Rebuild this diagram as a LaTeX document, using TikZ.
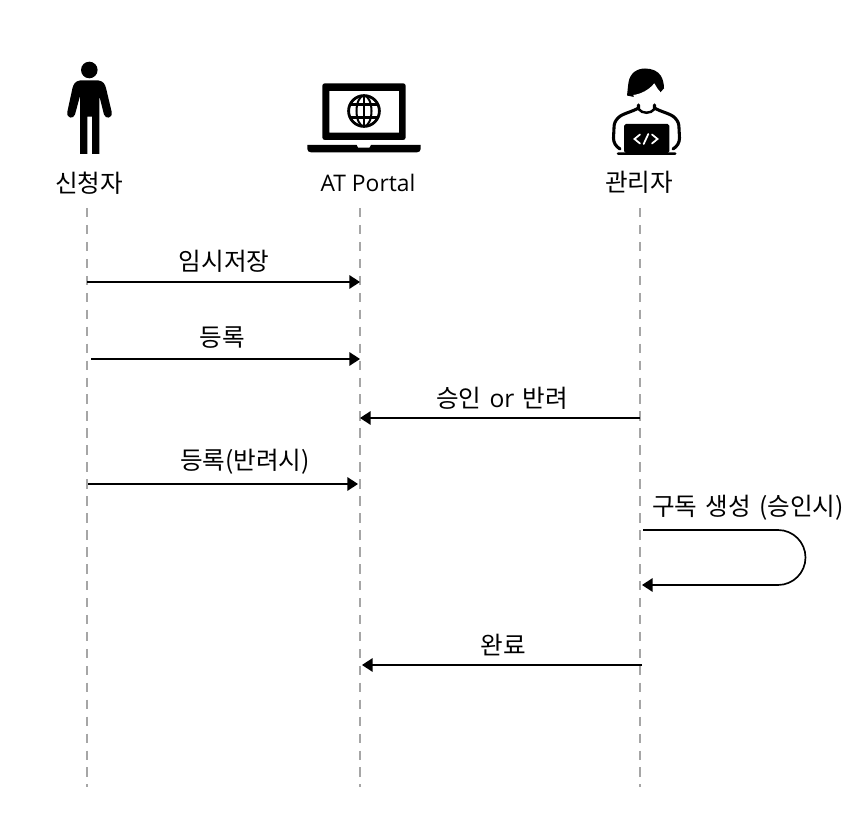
\documentclass[tikz,border=0pt]{standalone}
\usepackage{fontspec}
\setmainfont[WordSpace=1.5]{Noto Sans CJK KR}
\newfontfamily\latinfont{Open Sans}
\usetikzlibrary{arrows.meta}
\tikzset{
  lifeline/.style={line width=0.9pt,draw=black!35,dash pattern=on 5.4pt off 4.25pt},
  msg/.style={line width=0.95pt,-{Triangle[length=6pt,width=7.6pt]}},
  lbl/.style={font=\fontsize{14}{16}\selectfont,inner sep=0pt},
}
\begin{document}
\begin{tikzpicture}[x=0.02cm,y=-0.02cm]
\useasboundingbox (0,0) rectangle (860,817);
% 신청자 아이콘
\fill (89.3,70) circle (8.3);
\fill (80,80.5) -- (98.5,80.5) .. controls (103,81) and (105,84) .. (106,88)
  -- (111.7,112) .. controls (112.8,118.5) and (105.5,119.5) .. (104,114.5) -- (99.3,96)
  -- (99.3,154) -- (92,154) -- (92,116.7) -- (87.3,116.7) -- (87.3,154) -- (80,154) -- (80,96)
  -- (75,114.5) .. controls (73.5,119.5) and (66.3,118.5) .. (67.3,112) -- (72.5,88)
  .. controls (73.5,84) and (75.5,81) .. (80,80.5) -- cycle;
% 노트북 아이콘
\fill[rounded corners=1.5pt,even odd rule] (322.3,83.3) rectangle (405.7,140) [sharp corners] (329.3,91) rectangle (399,132.7);
\fill (307.3,145) -- (356.7,145) -- (358,147.7) -- (369.5,147.7) -- (371,145) -- (420.7,145)
  -- (420.7,149) .. controls (420.7,151) and (419,152.3) .. (417,152.3) -- (311,152.3) .. controls (309,152.3) and (307.3,151) .. (307.3,149) -- cycle;
\draw[line width=1.6pt] (364,111) circle (15.4);
\draw[line width=1.15pt] (364,111) ellipse (7.5 and 15.4);
\draw[line width=1.15pt] (364,95.5) -- (364,126.5);
\draw[line width=1.15pt] (350,104.5) -- (378,104.5);
\draw[line width=1.15pt] (350,117.5) -- (378,117.5);
% 관리자 아이콘
\fill (627,95.5) .. controls (627.5,92) and (627.8,87) .. (628.5,82.5) .. controls (630,73) and (637,68.5) .. (645,68.5)
  .. controls (652,68.5) and (658,71) .. (661,76) .. controls (663,79.5) and (664,84) .. (664,88.3)
  -- (660.7,92) -- (634,97) -- cycle;
\fill[white] (633.3,95) .. controls (641,94) and (649,90) .. (654.3,83.3) .. controls (656,86) and (658,90) .. (660,91.5)
  .. controls (659,100) and (654,107) .. (646.5,107) .. controls (639,107) and (634,102) .. (633.3,95) -- cycle;
\draw[line width=1.75pt,line cap=round] (638.5,105) -- (638.5,108) .. controls (632,112) and (622,113.5) .. (618,118) .. controls (615,121) and (614,124) .. (614,128)
  -- (613.5,138) .. controls (613.5,143) and (616,146.5) .. (620,149);
\draw[line width=1.75pt,line cap=round] (654.5,105) -- (654.5,108) .. controls (661,112) and (671,113.5) .. (675,118) .. controls (678,121) and (679,124) .. (679,128)
  -- (679.5,138) .. controls (679.5,143) and (677,146.5) .. (673,149);
\draw[line width=1.4pt] (638.5,109) .. controls (642,114) and (651,114) .. (654.5,109);
\fill[rounded corners=1pt] (624,124) rectangle (669.3,153);
\fill[rounded corners=0.8pt] (616.7,152.3) rectangle (676.5,155);
\draw[white,line width=1pt,line cap=round] (640,134.5) -- (634.5,139) -- (640,143.5);
\draw[white,line width=1pt,line cap=round] (652,134.5) -- (657.5,139) -- (652,143.5);
\draw[white,line width=1pt,line cap=round] (648.3,134) -- (643.7,144);
% 이름
\node[lbl] (userLabel) at (89,183) {신청자};
\node[lbl] (portalLabel) at (368,183) {\latinfont\fontsize{13}{16}\selectfont AT Portal};
\node[lbl] (adminLabel) at (639,182) {관리자};
% 생명선
\coordinate (userTop) at (87,208);
\coordinate (userEnd) at (87,787);
\coordinate (portalTop) at (360,208);
\coordinate (portalEnd) at (360,787);
\coordinate (adminTop) at (640,208);
\coordinate (adminEnd) at (640,787);
\draw[lifeline] (userTop) -- (userEnd);
\draw[lifeline] (portalTop) -- (portalEnd);
\draw[lifeline] (adminTop) -- (adminEnd);
% 메시지
\coordinate (m1a) at (87,282);
\coordinate (m1b) at (360,282);
\draw[msg] (m1a) -- (m1b);
\node[lbl] (m1) at (224,261) {임시저장};
\coordinate (m2a) at (91,359);
\coordinate (m2b) at (360,359);
\draw[msg] (m2a) -- (m2b);
\node[lbl] (m2) at (222,338) {등록};
\coordinate (m3a) at (640,418);
\coordinate (m3b) at (360,418);
\draw[msg] (m3a) -- (m3b);
\node[lbl] (m3) at (502,398) {승인 {\latinfont or} 반려};
\coordinate (m4a) at (88,484);
\coordinate (m4b) at (358,484);
\draw[msg] (m4a) -- (m4b);
\node[lbl] (m4) at (245,462) {등록(반려시)};
% 자기 호출
\coordinate (m5a) at (643,530);
\coordinate (m5b) at (642,585);
\draw[msg] (m5a) -- (778,530) arc[start angle=-90,end angle=90,radius=27.5] -- (m5b);
\node[lbl] (m5) at (748,508) {구독 생성 (승인시)};
\coordinate (m6a) at (642,665);
\coordinate (m6b) at (362,665);
\draw[msg] (m6a) -- (m6b);
\node[lbl] (m6) at (503,645) {완료};
\end{tikzpicture}
\end{document}
